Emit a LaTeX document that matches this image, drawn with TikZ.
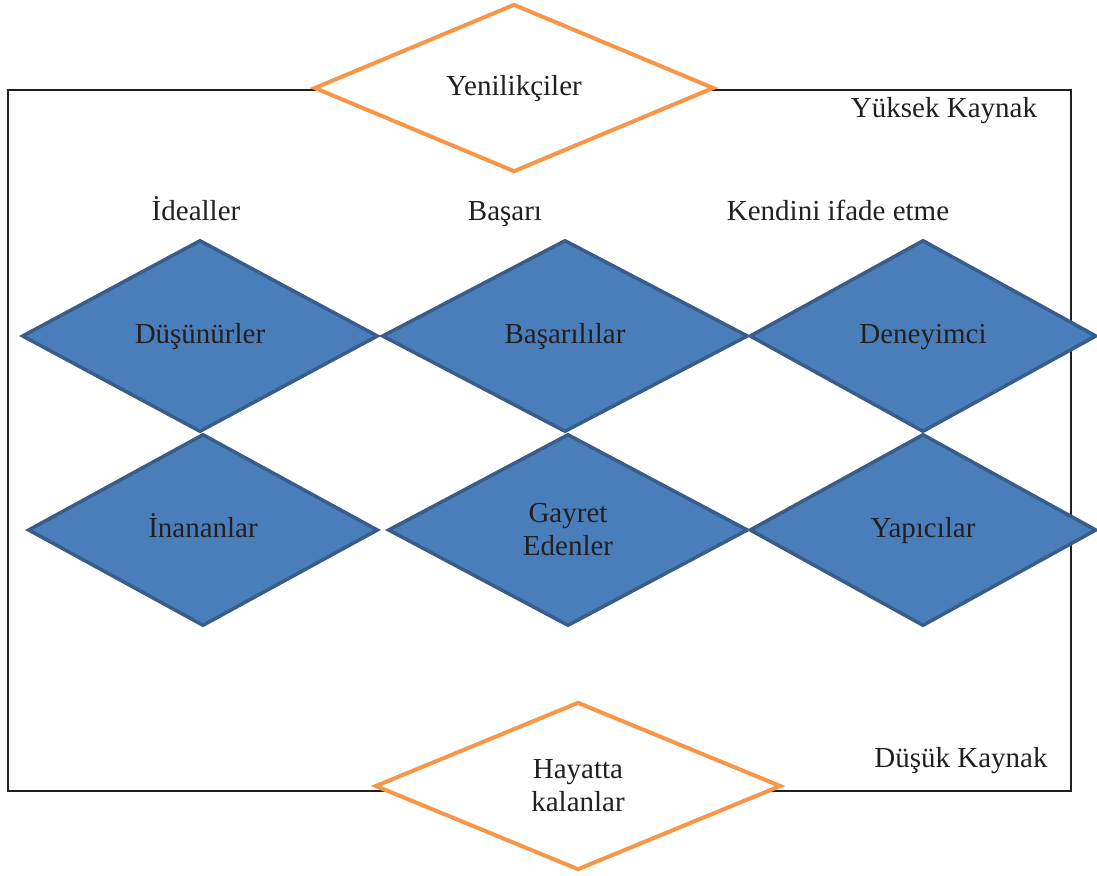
\documentclass[tikz,border=0pt]{standalone}
\usepackage{fontspec}
\setmainfont{Liberation Serif}
\usepackage{tikz}
\usepackage{xcolor}
\usetikzlibrary{shapes.geometric}

\definecolor{boxblue}{HTML}{4A7EBB}
\definecolor{boxedge}{HTML}{385D8A}
\definecolor{boxorange}{HTML}{F79646}
\definecolor{inktext}{HTML}{231F20}

\tikzset{
    segment/.style={diamond, draw=boxedge, fill=boxblue, line width=3.5pt, inner sep=0pt,
        minimum width=#1, minimum height=192pt, text=inktext},
    edge/.style={diamond, draw=boxorange, fill=white, line width=4pt, inner sep=0pt,
        minimum width=#1, minimum height=168pt, text=inktext},
    oneline/.style={text height=1.4em, text depth=0pt},
    tag/.style={text=inktext, anchor=base}
}

\begin{document}
\begin{tikzpicture}[x=1pt, y=-1pt, font=\fontsize{29}{33}\selectfont]
                \useasboundingbox (0,0) rectangle (1097,875);
                % Outer frame
                \draw[line width=1.5pt, inktext] (8,90) rectangle (1071,791);

                % Resource levels
                \node[tag] (high) at (944,117) {Yüksek Kaynak};
                \node[tag] (low) at (961,767) {Düşük Kaynak};

                % Top and bottom groups
                \node[edge=400pt, oneline] (innov) at (514,88) {Yenilikçiler};
                \node[edge=406pt, align=center] (survive) at (578,786) {Hayatta\\kalanlar};

                % Motivations
                \node[tag] (ideal) at (196,220) {İdealler};
                \node[tag] (success) at (505,220) {Başarı};
                \node[tag] (express) at (838,220) {Kendini ifade etme};

                % High resource row
                \node[segment=356pt, oneline] (think) at (200,336) {Düşünürler};
                \node[segment=366pt, oneline] (achieve) at (565,336) {Başarılılar};
                \node[segment=347pt, oneline] (experience) at (923,336) {Deneyimci};

                % Low resource row
                \node[segment=350pt, oneline] (believe) at (203,530) {İnananlar};
                \node[segment=360pt, align=center] (strive) at (568,530) {Gayret\\Edenler};
                \node[segment=347pt, oneline] (make) at (923,530) {Yapıcılar};
\end{tikzpicture}
\end{document}
